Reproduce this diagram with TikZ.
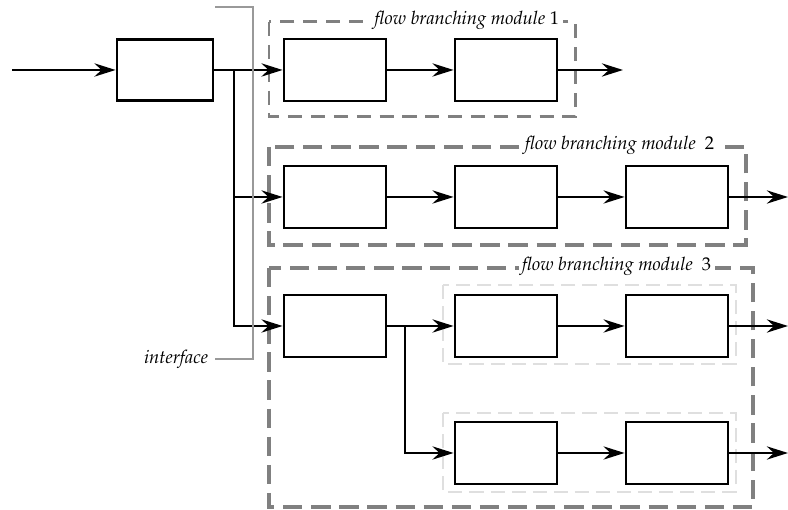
\documentclass[tikz,border=0pt]{standalone}
\usepackage{mathpazo}
\usepackage[T1]{fontenc}
\usetikzlibrary{arrows.meta,positioning,calc}
\tikzstyle{block} = [draw, shape=rectangle, fill=white, line width=1.6pt, minimum width=2.04cm, minimum height=1.24cm]
\tikzstyle{module} = [draw=gray, line width=2.4pt, dash pattern=on 11pt off 5pt]
\tikzstyle{submodule} = [draw=gray!25, line width=.6pt, dash pattern=on 8pt off 4pt]
\tikzstyle{Arrow} = [-{Stealth[length=12pt,width=7.5pt,inset=4pt]}, line width=1.6pt]
\tikzstyle{modlabel} = [fill=white, inner sep=2pt, anchor=east, font=\fontsize{10.5}{13}\selectfont\itshape]

\begin{document}
\begin{tikzpicture}
            \useasboundingbox (0,0) rectangle (15.76,10.2);
            %%%%% Module frames %%%%%
            \draw [module, line width=1.7pt, dash pattern=on 8pt off 5pt] (5.38,9.76) rectangle (11.50,7.86);
            \draw [module] (5.38,7.26) rectangle (14.92,5.30);
            \draw [module] (5.38,4.84) rectangle (15.06,0.06);
            \draw [submodule] (8.86,4.50) rectangle (14.72,2.92);
            \draw [submodule] (8.86,1.94) rectangle (14.72,0.36);
            \node [modlabel] at (11.26,9.80) {flow branching module \upshape 1};
            \node [modlabel] at (14.36,7.30) {flow branching module \upshape\ 2};
            \node [modlabel] at (14.30,4.88) {flow branching module \upshape\ 3};
            %%%%% Input %%%%%
            \coordinate (in) at (0.24,8.80);
            \node (A) [block, minimum width=1.92cm, minimum height=1.22cm] at (3.30,8.80) {};
            \draw [Arrow] (in) -- (A);
            %%%%% Branches %%%%%
            \node (B1) [block] at (6.70,8.80) {};
            \node (C1) [block] at (10.12,8.80) {};
            \node (B2) [block] at (6.70,6.26) {};
            \node (C2) [block] at (10.12,6.26) {};
            \node (D2) [block] at (13.54,6.26) {};
            \node (B3) [block] at (6.70,3.68) {};
            \node (C3) [block] at (10.12,3.68) {};
            \node (D3) [block] at (13.54,3.68) {};
            \node (C4) [block] at (10.12,1.14) {};
            \node (D4) [block] at (13.54,1.14) {};
            \coordinate (J1) at (4.68,8.80);
            \coordinate (J2) at (8.10,3.68);
            \coordinate (out1) at (12.46,8.80);
            \coordinate (out2) at (15.76,6.26);
            \coordinate (out3) at (15.76,3.68);
            \coordinate (out4) at (15.76,1.14);
            \draw [Arrow] (A) -- (B1);
            \draw [Arrow] (J1) |- (B2);
            \draw [Arrow] (J1) |- (B3);
            \draw [Arrow] (B1) -- (C1);
            \draw [Arrow] (C1) -- (out1);
            \draw [Arrow] (B2) -- (C2);
            \draw [Arrow] (C2) -- (D2);
            \draw [Arrow] (D2) -- (out2);
            \draw [Arrow] (B3) -- (C3);
            \draw [Arrow] (J2) |- (C4);
            \draw [Arrow] (C3) -- (D3);
            \draw [Arrow] (D3) -- (out3);
            \draw [Arrow] (C4) -- (D4);
            \draw [Arrow] (D4) -- (out4);
            %%%%% Interface %%%%%
            \draw [gray!80, line width=1.3pt] (4.30,10.06) -- (5.06,10.06) -- (5.06,3.02) -- (4.30,3.02) node [left, black, font=\fontsize{10.5}{13}\selectfont\itshape] (I) {interface};
\end{tikzpicture}
\end{document}
